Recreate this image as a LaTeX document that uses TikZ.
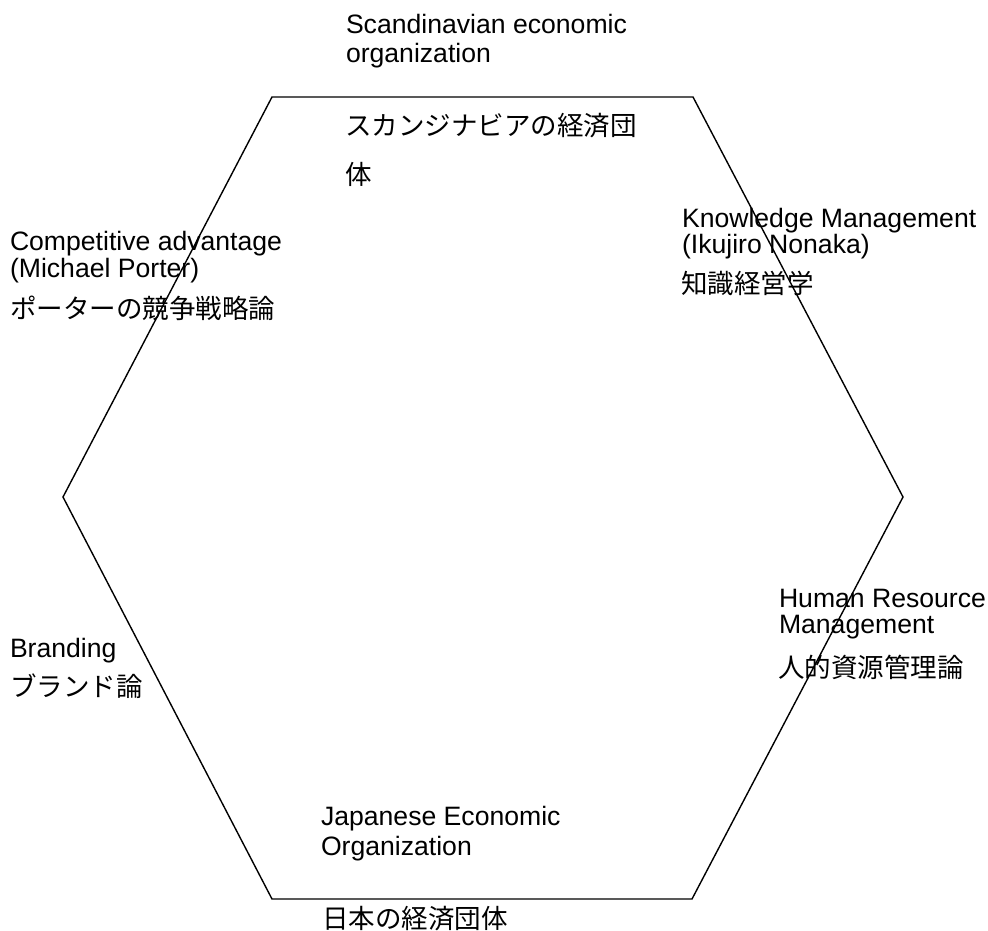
\documentclass[tikz,border=0pt]{standalone}
\usepackage{fontspec}
\setmainfont{Liberation Sans}
\newfontfamily\jpfont{Noto Sans CJK JP}
\begin{document}
\begin{tikzpicture}[x=1pt,y=-1pt,
  lbl/.style={anchor=base west,inner sep=0pt,outer sep=0pt,font=\fontsize{26.6}{30}\selectfont},
  jlbl/.style={anchor=base west,inner sep=0pt,outer sep=0pt,font=\fontsize{26.5}{30}\selectfont\jpfont},
  hexline/.style={draw=black,line width=1.4pt,line join=miter}]
\useasboundingbox (0,0) rectangle (988,931);
% hexagon vertices
\coordinate (A) at (272,97);
\coordinate (B) at (693,97);
\coordinate (C) at (903,497);
\coordinate (D) at (692,899);
\coordinate (E) at (272,899);
\coordinate (F) at (63,497);
\draw[hexline] (A) -- (B) -- (C) -- (D) -- (E) -- (F) -- cycle;
% top
\node[lbl] (t1) at (346,34) {Scandinavian economic};
\node[lbl] (t2) at (346,63) {organization};
\node[jlbl] (t3) at (345,136) {スカンジナビアの経済団};
\node[jlbl] (t4) at (345,185) {体};
% left upper
\node[lbl] (l1) at (10,250) {Competitive advantage};
\node[lbl] (l2) at (10,277) {(Michael Porter)};
\node[jlbl] (l3) at (10,318) {ポーターの競争戦略論};
% right upper
\node[lbl] (r1) at (682,227) {Knowledge Management};
\node[lbl] (r2) at (682,253) {(Ikujiro Nonaka)};
\node[jlbl] (r3) at (681,293) {知識経営学};
% right lower
\node[lbl] (h1) at (779,607) {Human Resource};
\node[lbl] (h2) at (779,633) {Management};
\node[jlbl] (h3) at (778,677) {人的資源管理論};
% left lower
\node[lbl] (b1) at (10,657) {Branding};
\node[jlbl] (b2) at (10,696) {ブランド論};
% bottom
\node[lbl] (j1) at (321,825) {Japanese Economic};
\node[lbl] (j2) at (321,855) {Organization};
\node[jlbl] (j3) at (322,928) {日本の経済団体};
\end{tikzpicture}
\end{document}
